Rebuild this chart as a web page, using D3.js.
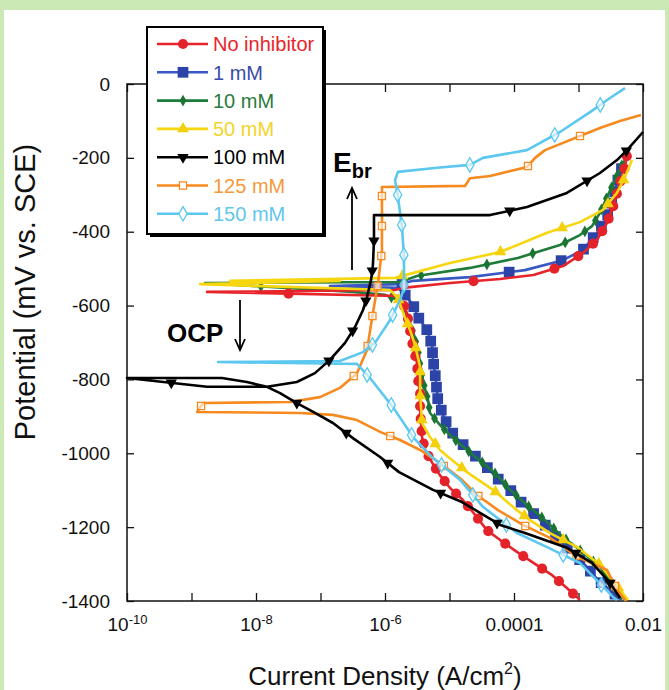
<!DOCTYPE html>
<html>
<head>
<meta charset="utf-8">
<script src="https://cdn.jsdelivr.net/npm/d3@7"></script>
<style>
  html, body { margin: 0; padding: 0; background: #cbe9b5; }
  svg { display: block; }
  text { font-family: "Liberation Sans", Arial, sans-serif; }
</style>
</head>
<body>
<svg id="chart" width="669" height="690"></svg>
<script>
// 图例名称
var seriesNames = ['No inhibitor', '1 mM', '10 mM', '50 mM', '100 mM', '125 mM', '150 mM']

// 电流密度 (A/cm2) 与电位 (mV vs. SCE)，按扫描顺序
var noInhI = [1.05e-3, 6.6e-4, 3.9e-4, 2.0e-4, 1.11e-4, 6.1e-5, 3.8e-5, 2.5e-5, 1.6e-5, 1.02e-5, 7.1e-6, 5.4e-6, 4.2e-6, 3.75e-6, 3.5e-6, 3.5e-6, 3.25e-6, 3.13e-6, 2.72e-6, 2.44e-6, 2.19e-6, 1.9e-6, 1.59e-6, 1.74e-9, 1.43e-6, 1.9e-6, 1.02e-5, 6.1e-5, 2.0e-4, 5.75e-4, 1.17e-3, 1.94e-3, 2.77e-3, 3.43e-3, 4.4e-3, 5.26e-3, 5.65e-3]
var noInhE = [-1397, -1365, -1330, -1297, -1267, -1235, -1208, -1167, -1126, -1094, -1059, -1026, -991, -956, -883, -837, -801, -755, -712, -666, -620, -593, -574, -563, -558, -552, -539, -528, -517, -493, -458, -422, -376, -333, -268, -225, -192]

var mM1I = [4.72e-3, 2.0e-3, 1.26e-3, 8.2e-4, 5.16e-4, 3.37e-4, 2.12e-4, 1.33e-4, 8.7e-5, 5.45e-5, 3.55e-5, 2.23e-5, 1.46e-5, 1.02e-5, 7.9e-6, 6.6e-6, 5.96e-6, 5.55e-6, 5.36e-6, 4.48e-6, 3.25e-6, 2.72e-6, 2.04e-6, 1.59e-6, 1.4e-7, 1.71e-6, 2.72e-6, 2.08e-5, 1.48e-4, 5.75e-4, 1.17e-3, 2.0e-3, 2.58e-3, 3.08e-3, 3.43e-3, 3.95e-3, 4.72e-3, 5.65e-3]
var mM1E = [-1397, -1343, -1302, -1270, -1240, -1202, -1167, -1135, -1099, -1067, -1032, -999, -969, -937, -896, -856, -783, -747, -707, -666, -631, -598, -571, -552, -547, -542, -533, -523, -504, -477, -449, -401, -368, -341, -309, -268, -225, -200]

var mM10I = [5.26e-3, 2.15e-3, 1.05e-3, 5.75e-4, 3.03e-4, 1.59e-4, 8.7e-5, 5.45e-5, 3.19e-5, 1.87e-5, 1.09e-5, 7.1e-6, 4.99e-6, 4.65e-6, 4.03e-6, 3.5e-6, 3.25e-6, 2.82e-6, 2.44e-6, 2.04e-6, 1.59e-6, 1.0e-6, 3.19e-7, 1.62e-9, 1.71e-6, 3.13e-6, 2.08e-5, 1.15e-4, 5.16e-4, 1.05e-3, 1.62e-3, 2.15e-3, 2.77e-3, 3.68e-3, 4.72e-3, 5.85e-3]
var mM10E = [-1397, -1308, -1262, -1227, -1181, -1140, -1099, -1059, -1024, -991, -956, -923, -891, -856, -815, -761, -720, -680, -647, -612, -585, -571, -563, -539, -536, -520, -498, -471, -436, -409, -385, -349, -306, -260, -219, -192]

var mM50I = [5.85e-3, 4.4e-3, 2.15e-3, 9.5e-4, 3.61e-4, 1.77e-4, 1.11e-4, 4.72e-5, 1.87e-5, 1.09e-5, 7.1e-6, 4.99e-6, 3.75e-6, 3.5e-6, 3.5e-6, 2.92e-6, 2.44e-6, 1.97e-6, 1.59e-6, 1.2e-6, 1.36e-9, 2.0e-7, 3.95e-9, 1.43e-6, 1.02e-5, 6.1e-5, 3.25e-4, 1.05e-3, 2.4e-3, 3.95e-3, 5.26e-3, 6.75e-3]
var mM50E = [-1397, -1370, -1302, -1254, -1216, -1181, -1154, -1099, -1051, -1018, -991, -956, -918, -837, -766, -707, -666, -626, -580, -558, -542, -533, -533, -525, -485, -455, -403, -374, -341, -295, -252, -206]

var mM100I = [4.4e-3, 3.08e-3, 1.62e-3, 6.6e-4, 1.48e-4, 6.1e-5, 1.56e-5, 5.55e-6, 1.65e-6, 8.4e-7, 3.3e-7, 1.56e-7, 7.7e-8, 4.3e-8, 2.36e-8, 1.48e-8, 7.2e-9, 2.97e-9, 1e-10, 1.74e-9, 1.48e-8, 4.3e-8, 8.2e-8, 1.4e-7, 2.4e-7, 3.43e-7, 4.56e-7, 5.26e-7, 6.07e-7, 6.5e-7, 6.75e-7, 6.75e-7, 4.25e-5, 1.59e-4, 6.6e-4, 2.15e-3, 3.95e-3, 5.65e-3, 1.0e-2]
var mM100E = [-1392, -1351, -1297, -1256, -1216, -1194, -1132, -1099, -1051, -1010, -961, -918, -888, -864, -837, -820, -807, -796, -796, -820, -820, -807, -783, -747, -701, -658, -612, -577, -531, -490, -422, -355, -355, -333, -295, -241, -206, -179, -130]

var mM125I = [5.45e-3, 3.95e-3, 2.77e-3, 9.8e-4, 3.61e-4, 1.38e-4, 5.65e-5, 2.67e-5, 1.56e-5, 7.1e-6, 3.5e-6, 1.71e-6, 8.4e-7, 3.68e-7, 1.56e-7, 4.8e-8, 1.22e-9, 1.51e-9, 3.37e-8, 9.8e-8, 2.0e-7, 3.68e-7, 5.26e-7, 6.5e-7, 7.8e-7, 8.97e-7, 8.97e-7, 8.97e-7, 1.74e-5, 2.08e-5, 4.25e-5, 1.59e-4, 2.12e-4, 3.03e-4, 2.15e-3, 4.4e-3, 9.3e-3]
var mM125E = [-1400, -1370, -1316, -1281, -1229, -1194, -1154, -1113, -1072, -1026, -991, -964, -942, -910, -896, -891, -888, -864, -861, -848, -823, -783, -720, -620, -539, -450, -360, -279, -276, -255, -249, -225, -200, -179, -119, -100, -84]

var mM150I = [3.95e-3, 3.43e-3, 1.05e-3, 3.25e-4, 1.11e-4, 3.3e-5, 1.46e-5, 5.55e-6, 2.72e-6, 1.33e-6, 5.85e-7, 3.68e-7, 2.58e-9, 2.0e-7, 4.56e-7, 7.0e-7, 1.2e-6, 1.71e-6, 1.97e-6, 1.97e-6, 1.84e-6, 1.59e-6, 1.43e-6, 1.59e-6, 6.4e-6, 2.08e-5, 3.3e-5, 1.59e-4, 5.16e-4, 1.51e-3, 3.08e-3, 5.26e-3]
var mM150E = [-1397, -1389, -1297, -1254, -1216, -1145, -1072, -1013, -956, -875, -796, -758, -753, -750, -726, -701, -639, -585, -552, -468, -390, -306, -260, -238, -227, -219, -200, -179, -130, -76, -38, -11]

// 坐标轴刻度
var xTickValues = [1e-10, 1e-9, 1e-8, 1e-7, 1e-6, 1e-5, 1e-4, 1e-3, 1e-2]
var xTickLabels = ['10^-10', '', '10^-8', '', '10^-6', '', '0.0001', '', '0.01']
var yTickValues = [-1400, -1200, -1000, -800, -600, -400, -200, 0]
var yTickLabels = ['-1400', '-1200', '-1000', '-800', '-600', '-400', '-200', '0']

var seriesI = [noInhI, mM1I, mM10I, mM50I, mM100I, mM125I, mM150I]
var seriesE = [noInhE, mM1E, mM10E, mM50E, mM100E, mM125E, mM150E]

// 样式
var lineColors = ['#e8242b', '#3a58c4', '#1e7b38', '#f6d60e', '#000000', '#f68a1f', '#5cc8f0']
var markColors = ['#e4222a', '#2c43a8', '#1b7434', '#f3d00a', '#000000', '#f68a1f', '#5cc8f0']
var textColors = ['#e8242b', '#3b4ba8', '#2a7a3e', '#f3d42a', '#000000', '#f39a3a', '#62c6ec']
var shapes = [d3.symbolCircle, d3.symbolSquare, d3.symbolDiamond, d3.symbolTriangle, d3.symbolTriangle, d3.symbolSquare, d3.symbolDiamond]
var shapeSize = [80, 115, 40, 60, 55, 50, 60]
var shapeRotate = [0, 0, 0, 0, 180, 0, 0]
var hollow = [false, false, false, false, false, true, true]
var markStep = [12.5, 11.5, 11, 24, 30, 30, 30] // 标记点间隔 (竖直像素)
var drawOrder = [1, 2, 0, 3, 5, 6, 4]

function drawChart() {
  var svg = d3.select('#chart')
  var pLeft = 127, pRight = 643, pTop = 84, pBottom = 601

  svg.append('rect').attr('x', 4).attr('y', 10).attr('width', 661).attr('height', 680).attr('fill', '#ffffff')

  var x = d3.scaleLog().domain([1e-10, 1e-2]).range([pLeft, pRight])
  var y = d3.scaleLinear().domain([-1400, 0]).range([pBottom, pTop])

  // 坐标轴
  var gx = svg.append('g').attr('transform', `translate(0, ${pBottom})`)
    .call(d3.axisBottom(x).tickValues(xTickValues).tickSize(-8).tickPadding(17)
      .tickFormat(function(d, i) { return xTickLabels[i] }))
  gx.select('.domain').remove()
  gx.selectAll('line').attr('stroke', '#111').attr('stroke-width', 1.3)
  gx.selectAll('text').attr('font-size', 19).attr('fill', '#111').each(function() {
    var t = d3.select(this)
    var s = t.text()
    if (s.indexOf('^') > -1) {
      var parts = s.split('^')
      t.text('')
      t.append('tspan').text(parts[0])
      t.append('tspan').text(parts[1]).attr('font-size', 13).attr('dy', '-0.55em')
    }
  })

  var gy = svg.append('g').attr('transform', `translate(${pLeft}, 0)`)
    .call(d3.axisLeft(y).tickValues(yTickValues).tickSize(-7).tickPadding(17)
      .tickFormat(function(d, i) { return yTickLabels[i] }))
  gy.select('.domain').remove()
  gy.selectAll('line').attr('stroke', '#111').attr('stroke-width', 1.3)
  gy.selectAll('text').attr('font-size', 19).attr('fill', '#111')

  var gt = svg.append('g').attr('transform', `translate(0, ${pTop})`)
    .call(d3.axisTop(x).tickValues(xTickValues).tickSize(-8).tickFormat(''))
  gt.select('.domain').remove()
  gt.selectAll('line').attr('stroke', '#111').attr('stroke-width', 1.3)

  var gr = svg.append('g').attr('transform', `translate(${pRight}, 0)`)
    .call(d3.axisRight(y).tickValues(yTickValues).tickSize(-7).tickFormat(''))
  gr.select('.domain').remove()
  gr.selectAll('line').attr('stroke', '#111').attr('stroke-width', 1.3)

  svg.append('rect')
    .attr('x', pLeft).attr('y', pTop)
    .attr('width', pRight - pLeft).attr('height', pBottom - pTop)
    .attr('fill', 'none').attr('stroke', '#111').attr('stroke-width', 1.5)

  // 曲线
  var line = d3.line()
    .x(function(d) { return x(d[0]) })
    .y(function(d) { return y(d[1]) })

  function markerPoints(pts, step) {
    var out = []
    var acc = step * 0.5
    for (var i = 1; i < pts.length; i++) {
      var a = pts[i - 1], b = pts[i]
      var dy = Math.abs(b[1] - a[1])
      if (dy === 0) continue
      var pos = 0
      var remaining = dy
      while (acc + remaining >= step) {
        var need = step - acc
        pos += need
        remaining -= need
        var t = pos / dy
        out.push([a[0] + (b[0] - a[0]) * t, a[1] + (b[1] - a[1]) * t])
        acc = 0
      }
      acc += remaining
    }
    return out
  }

  var plot = svg.append('g')

  drawOrder.forEach(function(k) {
    var data = seriesI[k].map(function(v, i) { return [v, seriesE[k][i]] })
    var g = plot.append('g')

    g.append('path')
      .attr('d', line(data))
      .attr('fill', 'none')
      .attr('stroke', lineColors[k])
      .attr('stroke-width', 2.6)
      .attr('stroke-linejoin', 'round')

    var pix = data.map(function(d) { return [x(d[0]), y(d[1])] })
    var marks = markerPoints(pix, markStep[k])
    var sym = d3.symbol().type(shapes[k]).size(shapeSize[k])

    g.selectAll('path.mk').data(marks).enter().append('path')
      .attr('class', 'mk')
      .attr('d', sym)
      .attr('transform', function(d) {
        return `translate(${d[0]}, ${d[1]}) rotate(${shapeRotate[k]})`
      })
      .attr('fill', hollow[k] ? '#ffffff' : markColors[k])
      .attr('fill-opacity', hollow[k] ? 0.6 : 1)
      .attr('stroke', hollow[k] ? markColors[k] : 'none')
      .attr('stroke-width', 1.3)
  })

  // 注释
  var ann = svg.append('g').attr('fill', '#000')
  var ebr = ann.append('text').attr('x', 333).attr('y', 172)
    .attr('font-size', 28).attr('font-weight', 'bold')
  ebr.append('tspan').text('E')
  ebr.append('tspan').text('br').attr('font-size', 20).attr('dy', 6)

  ann.append('text').attr('x', 167).attr('y', 342)
    .attr('font-size', 26).attr('font-weight', 'bold').text('OCP')

  function arrow(x0, y0, y1) {
    var dir = y1 < y0 ? 1 : -1
    ann.append('line').attr('x1', x0).attr('y1', y0).attr('x2', x0).attr('y2', y1)
      .attr('stroke', '#000').attr('stroke-width', 1.8)
    ann.append('path')
      .attr('d', `M${x0 - 5},${y1 + dir * 11} L${x0},${y1} L${x0 + 5},${y1 + dir * 11}`)
      .attr('fill', 'none').attr('stroke', '#000').attr('stroke-width', 1.8)
  }
  arrow(352, 270, 188)
  arrow(240, 300, 350)

  // 坐标轴标题
  svg.append('text')
    .attr('transform', 'translate(35, 292) rotate(-90)')
    .attr('text-anchor', 'middle')
    .attr('font-size', 29).attr('fill', '#111')
    .text('Potential (mV vs. SCE)')

  var xt = svg.append('text')
    .attr('x', 385).attr('y', 685)
    .attr('text-anchor', 'middle')
    .attr('font-size', 26).attr('fill', '#111')
  xt.append('tspan').text('Current Density (A/cm')
  xt.append('tspan').text('2').attr('font-size', 16).attr('dy', -11)
  xt.append('tspan').text(')').attr('dy', 11)

  // 图例
  var lg = svg.append('g')
  var lgX = 147, lgY = 27, lgW = 176, lgH = 207
  lg.append('rect').attr('x', lgX + 3).attr('y', lgY + 3).attr('width', lgW).attr('height', lgH).attr('fill', '#000')
  lg.append('rect').attr('x', lgX).attr('y', lgY).attr('width', lgW).attr('height', lgH)
    .attr('fill', '#fff').attr('stroke', '#000').attr('stroke-width', 2)

  seriesNames.forEach(function(name, k) {
    var cy = 44 + k * 28.3
    lg.append('line').attr('x1', 157).attr('x2', 208).attr('y1', cy).attr('y2', cy)
      .attr('stroke', lineColors[k]).attr('stroke-width', 2.6)
    lg.append('path')
      .attr('d', d3.symbol().type(shapes[k]).size(shapeSize[k]))
      .attr('transform', `translate(183, ${cy}) rotate(${shapeRotate[k]})`)
      .attr('fill', hollow[k] ? '#ffffff' : markColors[k])
      .attr('stroke', hollow[k] ? markColors[k] : 'none')
      .attr('stroke-width', 1.3)
    lg.append('text').attr('x', 213).attr('y', cy).attr('dy', '0.36em')
      .attr('font-size', 20).attr('fill', textColors[k]).text(name)
  })
}

drawChart()
</script>
</body>
</html>
